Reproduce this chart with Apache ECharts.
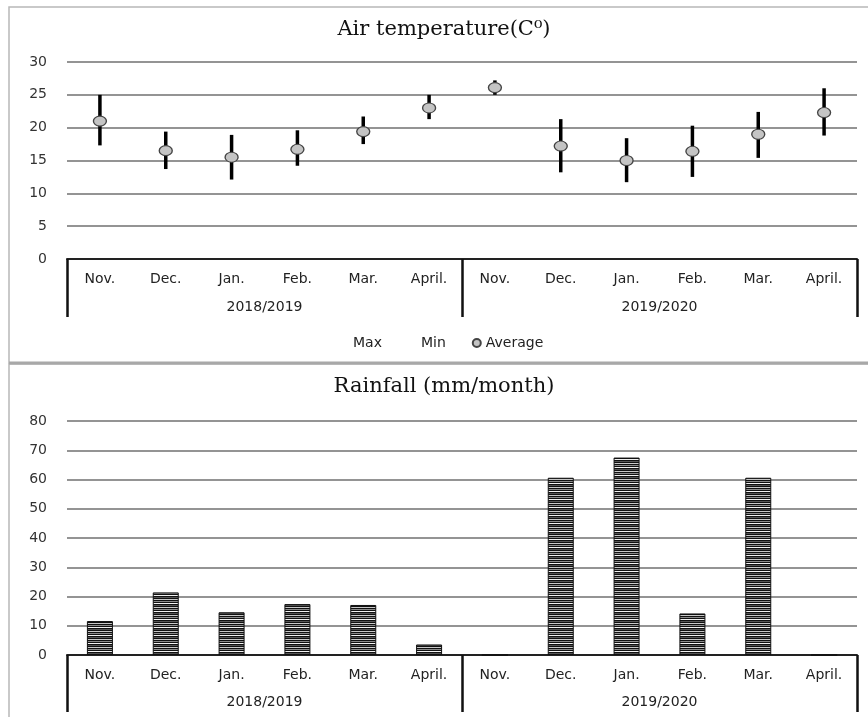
<!DOCTYPE html>
<html><head><meta charset="utf-8">
<script src="https://cdn.jsdelivr.net/npm/echarts@6/dist/echarts.min.js"></script>
<style>html,body{margin:0;padding:0;background:#fff}#c{width:868px;height:717px}</style>
</head><body><div id="c"></div>
<script>
// ---- data ----
const months = ['Nov.','Dec.','Jan.','Feb.','Mar.','April.','Nov.','Dec.','Jan.','Feb.','Mar.','April.'];
const seasons = ['2018/2019','2019/2020'];
const tempMax = [25.0, 19.4, 18.9, 19.6, 21.7, 25.0, 27.2, 21.3, 18.4, 20.3, 22.4, 26.0];
const tempMin = [17.3, 13.7, 12.1, 14.2, 17.5, 21.3, 25.0, 13.2, 11.7, 12.5, 15.4, 18.8];
const tempAvg = [21.0, 16.5, 15.5, 16.7, 19.4, 23.0, 26.1, 17.2, 15.0, 16.4, 19.0, 22.3];
const rainfall = [11.6, 21.4, 14.6, 17.4, 17.1, 3.6, 0, 60.6, 67.5, 14.2, 60.6, 0];
const tempTitle = 'Air temperature(C\u2070)';
const rainTitle = 'Rainfall (mm/month)';

// ---- stripe pattern for bars ----
const pc = document.createElement('canvas'); pc.width = 4; pc.height = 8;
const pctx = pc.getContext('2d');
['#111','#8a8a8a','#111','#f2f2f2','#111','#555','#111','#c8c8c8'].forEach((c,i)=>{pctx.fillStyle=c;pctx.fillRect(0,i,4,1);});

const FONT = 'DejaVu Sans';
const chart = echarts.init(document.getElementById('c'));

function monthAxis(gi){
  return {type:'category', gridIndex:gi, data:months, position:'bottom',
    axisLine:{show:true, lineStyle:{color:'#222', width:2}},
    axisTick:{show:false},
    axisLabel:{interval:0, margin:13, fontFamily:FONT, fontSize:14, color:'#222'},
    splitLine:{show:false}};
}
function seasonAxis(gi, tickLen, margin){
  return {type:'category', gridIndex:gi, data:seasons, position:'bottom',
    axisLine:{show:false},
    axisTick:{show:true, interval:0, length:tickLen, lineStyle:{color:'#111', width:2.5}},
    axisLabel:{interval:0, margin:margin, fontFamily:FONT, fontSize:14, color:'#222'},
    splitLine:{show:false}};
}
function valAxis(gi, max, interval){
  return {type:'value', gridIndex:gi, min:0, max:max, interval:interval,
    axisLine:{show:false}, axisTick:{show:false},
    axisLabel:{margin:20, fontFamily:FONT, fontSize:14, color:'#333'},
    splitLine:{show:true, lineStyle:{color:'#707070', width:1.5}}};
}

chart.setOption({
  animation:false,
  title:[
    {text:tempTitle, left:444, top:19, textAlign:'center', padding:0,
      textStyle:{fontFamily:'DejaVu Serif', fontSize:21, fontWeight:'normal', color:'#111'}},
    {text:rainTitle, left:444, top:376, textAlign:'center', padding:0,
      textStyle:{fontFamily:'DejaVu Serif', fontSize:21, fontWeight:'normal', color:'#111'}}
  ],
  legend:{left:335, top:331, itemWidth:8, itemHeight:8, itemGap:26,
    textStyle:{fontFamily:FONT, fontSize:14, color:'#222'},
    data:[
      {name:'Max', icon:'rect', itemStyle:{color:'rgba(0,0,0,0)', borderWidth:0}},
      {name:'Min', icon:'rect', itemStyle:{color:'rgba(0,0,0,0)', borderWidth:0}},
      {name:'Average', icon:'circle'}
    ]},
  grid:[
    {left:67, right:11, top:62, height:197},
    {left:67, right:11, top:421, height:234}
  ],
  xAxis:[monthAxis(0), seasonAxis(0, 58, 41), monthAxis(1), seasonAxis(1, 57, 40)],
  yAxis:[valAxis(0, 30, 5), valAxis(1, 80, 10)],
  graphic:[
    {type:'rect', shape:{x:9, y:7, width:880, height:356}, style:{fill:'none', stroke:'#b8b8b8', lineWidth:1.5}, silent:true, z:-1},
    {type:'rect', shape:{x:9, y:364, width:880, height:400}, style:{fill:'none', stroke:'#b8b8b8', lineWidth:1.5}, silent:true, z:-1},
    {type:'line', shape:{x1:9, y1:363, x2:868, y2:363}, style:{stroke:'#a8a8a8', lineWidth:3}, silent:true, z:-1}
  ],
  series:[
    {name:'Max', type:'line', xAxisIndex:0, yAxisIndex:0, data:tempMax, symbol:'none', lineStyle:{opacity:0}, silent:true},
    {name:'Min', type:'line', xAxisIndex:0, yAxisIndex:0, data:tempMin, symbol:'none', lineStyle:{opacity:0}, silent:true},
    {name:'HighLow', type:'custom', xAxisIndex:0, yAxisIndex:0,
      data:months.map((m,i)=>[i, tempMax[i], tempMin[i]]),
      encode:{x:0, y:[1,2]},
      renderItem:function(params, api){
        const i = api.value(0);
        const a = api.coord([i, api.value(1)]);
        const b = api.coord([i, api.value(2)]);
        return {type:'line', shape:{x1:a[0], y1:a[1], x2:b[0], y2:b[1]}, style:{stroke:'#000', lineWidth:3.5}};
      }, z:3},
    {name:'Average', type:'scatter', xAxisIndex:0, yAxisIndex:0, data:tempAvg,
      symbol:'circle', symbolSize:[13,10],
      itemStyle:{color:'#c4c4c4', borderColor:'#444', borderWidth:1.2, opacity:1}, z:5},
    {name:'Rainfall', type:'bar', xAxisIndex:2, yAxisIndex:1, data:rainfall, barWidth:26,
      itemStyle:{color:{image:pc, repeat:'repeat'}, borderColor:'#111', borderWidth:1}}
  ]
});
</script></body></html>
